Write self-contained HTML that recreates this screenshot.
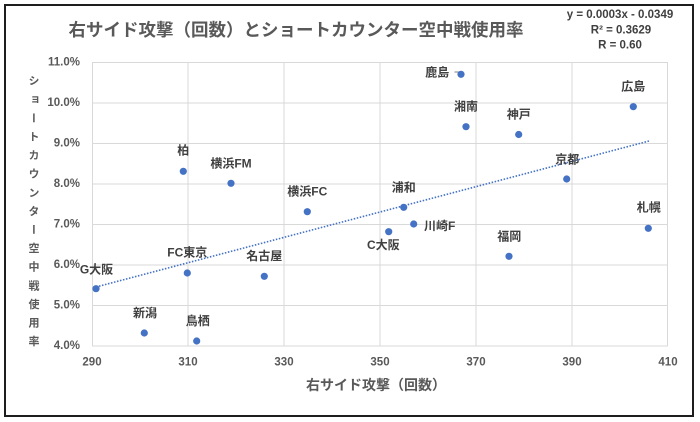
<!DOCTYPE html>
<html>
<head>
<meta charset="utf-8">
<style>
  html,body{margin:0;padding:0;background:#fff;}
  body{width:700px;height:422px;position:relative;overflow:hidden;}
  svg{position:absolute;left:0;top:0;}
  .ytitle{position:absolute;left:27px;top:74.5px;writing-mode:vertical-rl;text-orientation:upright;
    font-family:"Liberation Sans","Noto Sans CJK JP",sans-serif;font-size:11px;font-weight:bold;
    letter-spacing:7.6px;color:#595959;line-height:12px;width:12px;}
</style>
</head>
<body>
<svg width="700" height="422" viewBox="0 0 700 422" xmlns="http://www.w3.org/2000/svg">
  <rect x="0" y="0" width="700" height="422" fill="#fff"/>
  <rect x="5" y="5" width="688" height="411" fill="#fff" stroke="#1e1e1e" stroke-width="2"/>

  <!-- gridlines -->
  <g stroke="#d9d9d9" stroke-width="1" fill="none">
    <line x1="92" y1="62.5" x2="668" y2="62.5"/>
    <line x1="92" y1="103" x2="668" y2="103"/>
    <line x1="92" y1="143.5" x2="668" y2="143.5"/>
    <line x1="92" y1="184" x2="668" y2="184"/>
    <line x1="92" y1="224.5" x2="668" y2="224.5"/>
    <line x1="92" y1="265" x2="668" y2="265"/>
    <line x1="92" y1="305.5" x2="668" y2="305.5"/>
    <line x1="92" y1="346" x2="668" y2="346"/>
    <line x1="92.5" y1="62.5" x2="92.5" y2="346"/>
    <line x1="188" y1="62.5" x2="188" y2="346"/>
    <line x1="284" y1="62.5" x2="284" y2="346"/>
    <line x1="380" y1="62.5" x2="380" y2="346"/>
    <line x1="476" y1="62.5" x2="476" y2="346"/>
    <line x1="572" y1="62.5" x2="572" y2="346"/>
    <line x1="667.5" y1="62.5" x2="667.5" y2="346"/>
  </g>

  <!-- title -->
  <text x="296" y="30" text-anchor="middle" dominant-baseline="central" font-family="'Liberation Sans','Noto Sans CJK JP',sans-serif" font-size="17.5" font-weight="bold" fill="#595959">右サイド攻撃（回数）とショートカウンター空中戦使用率</text>

  <!-- equation -->
  <g font-family="'Liberation Sans',sans-serif" font-size="11.5" font-weight="bold" fill="#404040" text-anchor="middle" dominant-baseline="central">
    <text x="620" y="15">y = 0.0003x - 0.0349</text>
    <text x="621" y="30.5">R² = 0.3629</text>
    <text x="620" y="45.5">R = 0.60</text>
  </g>

  <!-- y tick labels -->
  <g font-family="'Liberation Sans',sans-serif" font-size="11.5" font-weight="bold" fill="#595959" text-anchor="end" dominant-baseline="central">
    <text x="80" y="62.5">11.0%</text>
    <text x="80" y="103">10.0%</text>
    <text x="80" y="143.5">9.0%</text>
    <text x="80" y="184">8.0%</text>
    <text x="80" y="224.5">7.0%</text>
    <text x="80" y="265">6.0%</text>
    <text x="80" y="305.5">5.0%</text>
    <text x="80" y="346">4.0%</text>
  </g>

  <!-- x tick labels -->
  <g font-family="'Liberation Sans',sans-serif" font-size="11.5" font-weight="bold" fill="#595959" text-anchor="middle" dominant-baseline="central">
    <text x="92" y="362.7">290</text>
    <text x="188" y="362.7">310</text>
    <text x="284" y="362.7">330</text>
    <text x="380" y="362.7">350</text>
    <text x="476" y="362.7">370</text>
    <text x="572" y="362.7">390</text>
    <text x="668" y="362.7">410</text>
  </g>

  <!-- x axis title -->
  <text x="376" y="385" text-anchor="middle" dominant-baseline="central" font-family="'Liberation Sans','Noto Sans CJK JP',sans-serif" font-size="14" font-weight="bold" fill="#595959">右サイド攻撃（回数）</text>

  <!-- trendline -->
  <line x1="96" y1="287" x2="649" y2="141" stroke="#4472C4" stroke-width="1.6" stroke-dasharray="1.5,1.6"/>

  <!-- leader line for 鹿島 -->
  <line x1="454.5" y1="72" x2="458.5" y2="72" stroke="#7f7f7f" stroke-width="1"/>

  <!-- points -->
  <g fill="#4472C4">
    <circle cx="96" cy="288.7" r="3.6"/>
    <circle cx="144.3" cy="333" r="3.6"/>
    <circle cx="196.7" cy="341" r="3.6"/>
    <circle cx="183.3" cy="171.3" r="3.6"/>
    <circle cx="187.3" cy="273" r="3.6"/>
    <circle cx="231" cy="183.3" r="3.6"/>
    <circle cx="264.3" cy="276.3" r="3.6"/>
    <circle cx="307.3" cy="211.7" r="3.6"/>
    <circle cx="388.7" cy="231.7" r="3.6"/>
    <circle cx="403.7" cy="207.3" r="3.6"/>
    <circle cx="413.7" cy="224" r="3.6"/>
    <circle cx="461" cy="74.3" r="3.6"/>
    <circle cx="466" cy="126.7" r="3.6"/>
    <circle cx="518.7" cy="134.5" r="3.6"/>
    <circle cx="509" cy="256.3" r="3.6"/>
    <circle cx="566.7" cy="179" r="3.6"/>
    <circle cx="633.3" cy="106.7" r="3.6"/>
    <circle cx="648.3" cy="228.3" r="3.6"/>
  </g>

  <!-- data labels -->
  <g font-family="'Liberation Sans','Noto Sans CJK JP',sans-serif" font-size="12" font-weight="bold" fill="#404040" text-anchor="middle" dominant-baseline="central">
    <text x="96.5" y="269.3">G大阪</text>
    <text x="145" y="313">新潟</text>
    <text x="197.7" y="321">鳥栖</text>
    <text x="183.3" y="150.7">柏</text>
    <text x="187.3" y="252.3">FC東京</text>
    <text x="231" y="163.3">横浜FM</text>
    <text x="264.3" y="256">名古屋</text>
    <text x="307.3" y="191.7">横浜FC</text>
    <text x="383.3" y="245">C大阪</text>
    <text x="403.7" y="187.3">浦和</text>
    <text x="424" y="226" text-anchor="start">川崎F</text>
    <text x="449.3" y="72.3" text-anchor="end">鹿島</text>
    <text x="466" y="106.7">湘南</text>
    <text x="518.7" y="114.3">神戸</text>
    <text x="509.3" y="236.7">福岡</text>
    <text x="567.3" y="159.3">京都</text>
    <text x="633.3" y="86.7">広島</text>
    <text x="648.7" y="207.3">札幌</text>
  </g>
</svg>
<div class="ytitle">ショートカウンター空中戦使用率</div>
</body>
</html>
